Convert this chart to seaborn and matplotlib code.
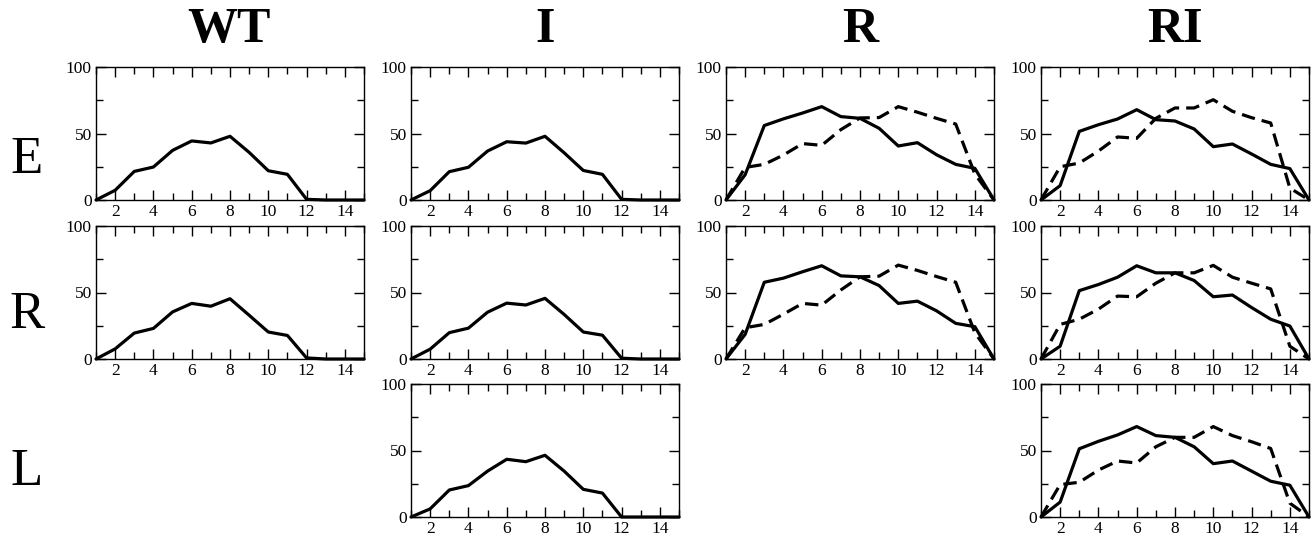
import matplotlib
matplotlib.use("Agg")
import matplotlib.pyplot as plt
import seaborn as sns
import pandas as pd
from matplotlib.ticker import MultipleLocator

# ---------------- data ----------------
positions = list(range(1, 16))
col_titles = ["WT", "I", "R", "RI"]
row_labels = ["E", "R", "L"]
x_ticks = [2, 4, 6, 8, 10, 12, 14]
y_ticks = [0, 50, 100]

wt_E = [0, 7.3, 21.5, 24.8, 37.3, 44.4, 42.9, 47.9, 35.8, 22.0, 19.3, 0.5, 0, 0, 0]
wt_R = [0, 7.6, 19.5, 23.0, 35.4, 41.8, 39.7, 45.3, 32.9, 20.3, 17.7, 0.8, 0, 0, 0]

i_E = [0, 7.0, 21.3, 24.6, 36.8, 43.8, 42.8, 47.9, 35.5, 22.2, 19.3, 0.5, 0, 0, 0]
i_R = [0, 7.4, 19.8, 23.2, 35.2, 42.0, 40.6, 45.6, 33.5, 20.3, 17.9, 0.6, 0, 0, 0]
i_L = [0, 6.1, 20.3, 23.6, 34.5, 43.4, 41.6, 46.4, 34.5, 20.8, 18.0, 0, 0, 0, 0]

r_E_solid = [0, 19.0, 56.0, 61.0, 65.4, 70.2, 62.7, 61.4, 53.9, 40.6, 43.1, 34.0, 26.8, 23.8, 0]
r_E_dash = [0, 24.5, 26.8, 33.8, 42.4, 41.1, 52.9, 61.7, 62.0, 70.2, 66.0, 61.4, 57.1, 19.5, 0]
r_R_solid = [0, 18.5, 57.7, 60.8, 65.6, 70.1, 62.5, 61.8, 55.2, 41.8, 43.5, 36.2, 26.8, 24.3, 0]
r_R_dash = [0, 23.5, 26.0, 33.7, 41.8, 40.5, 51.9, 61.8, 62.3, 70.6, 66.6, 62.0, 57.7, 19.7, 0]

ri_E_solid = [0, 10.8, 51.6, 56.6, 60.9, 67.9, 60.4, 59.4, 53.4, 40.1, 42.1, 34.6, 26.8, 23.6, 0]
ri_E_dash = [0, 25.0, 27.8, 36.8, 47.4, 46.4, 61.4, 69.2, 69.2, 75.4, 66.7, 61.9, 57.9, 9.0, 0]
ri_R_solid = [0, 9.6, 51.4, 56.0, 61.5, 70.1, 64.8, 64.8, 59.0, 46.8, 48.1, 38.7, 29.9, 24.8, 0]
ri_R_dash = [0, 26.0, 29.9, 37.5, 47.3, 46.8, 57.0, 64.8, 64.8, 70.4, 61.5, 57.0, 52.7, 9.6, 0]
ri_L_solid = [0, 11.2, 51.3, 56.9, 61.7, 68.0, 61.2, 59.9, 52.8, 40.1, 42.1, 34.5, 26.9, 23.9, 0]
ri_L_dash = [0, 24.4, 26.1, 35.3, 42.1, 40.6, 52.8, 59.9, 59.9, 68.0, 61.2, 56.6, 51.5, 10.4, 0]

# (row, col) -> list of (series values, style)
panels = {
    (0, 0): [(wt_E, "solid")],
    (1, 0): [(wt_R, "solid")],
    (0, 1): [(i_E, "solid")],
    (1, 1): [(i_R, "solid")],
    (2, 1): [(i_L, "solid")],
    (0, 2): [(r_E_solid, "solid"), (r_E_dash, "dash")],
    (1, 2): [(r_R_solid, "solid"), (r_R_dash, "dash")],
    (0, 3): [(ri_E_solid, "solid"), (ri_E_dash, "dash")],
    (1, 3): [(ri_R_solid, "solid"), (ri_R_dash, "dash")],
    (2, 3): [(ri_L_solid, "solid"), (ri_L_dash, "dash")],
}

# ---------------- style ----------------
sns.set_theme(style="white")
plt.rcParams["font.family"] = ["Liberation Serif", "DejaVu Serif"]

W, H = 1315, 537
fig = plt.figure(figsize=(W / 100, H / 100), dpi=100)
fig.patch.set_facecolor("white")

col_left = [96, 411, 726, 1041]
row_top = [67, 226, 384]
pw, ph = 268, 133

styles = {"solid": "-", "dash": (0, (4.2, 2.2))}

for (r, c), series in panels.items():
    ax = fig.add_axes([col_left[c] / W, 1 - (row_top[r] + ph) / H, pw / W, ph / H])
    for vals, st in series:
        df = pd.DataFrame({"x": positions, "y": vals})
        sns.lineplot(data=df, x="x", y="y", ax=ax, color="black",
                     linewidth=2.3, linestyle=styles[st], clip_on=False,
                     zorder=5)
    ax.set_xlim(1, 15)
    ax.set_ylim(0, 100)
    ax.set_xticks(x_ticks)
    ax.set_yticks(y_ticks)
    ax.xaxis.set_minor_locator(MultipleLocator(1))
    ax.yaxis.set_minor_locator(MultipleLocator(25))
    ax.tick_params(which="both", direction="in", top=True, right=True,
                   bottom=True, left=True, color="black", width=1.0,
                   labelsize=12.5, labelcolor="black", pad=3)
    ax.tick_params(which="major", length=7)
    ax.tick_params(which="minor", length=5)
    ax.set_xlabel("")
    ax.set_ylabel("")
    for s in ax.spines.values():
        s.set_color("black")
        s.set_linewidth(1.0)
    ax.set_facecolor("white")

# column titles
title_x = [229, 545, 860, 1175]
for t, xc in zip(col_titles, title_x):
    fig.text(xc / W, 1 - 30 / H, t, ha="center", va="center",
             fontsize=36, fontweight="bold", color="black")

# row labels
label_y = [160, 315, 472]
for t, yc in zip(row_labels, label_y):
    fig.text(27 / W, 1 - yc / H, t, ha="center", va="center",
             fontsize=38, color="black")

fig.savefig("out.png", dpi=100, facecolor="white")
